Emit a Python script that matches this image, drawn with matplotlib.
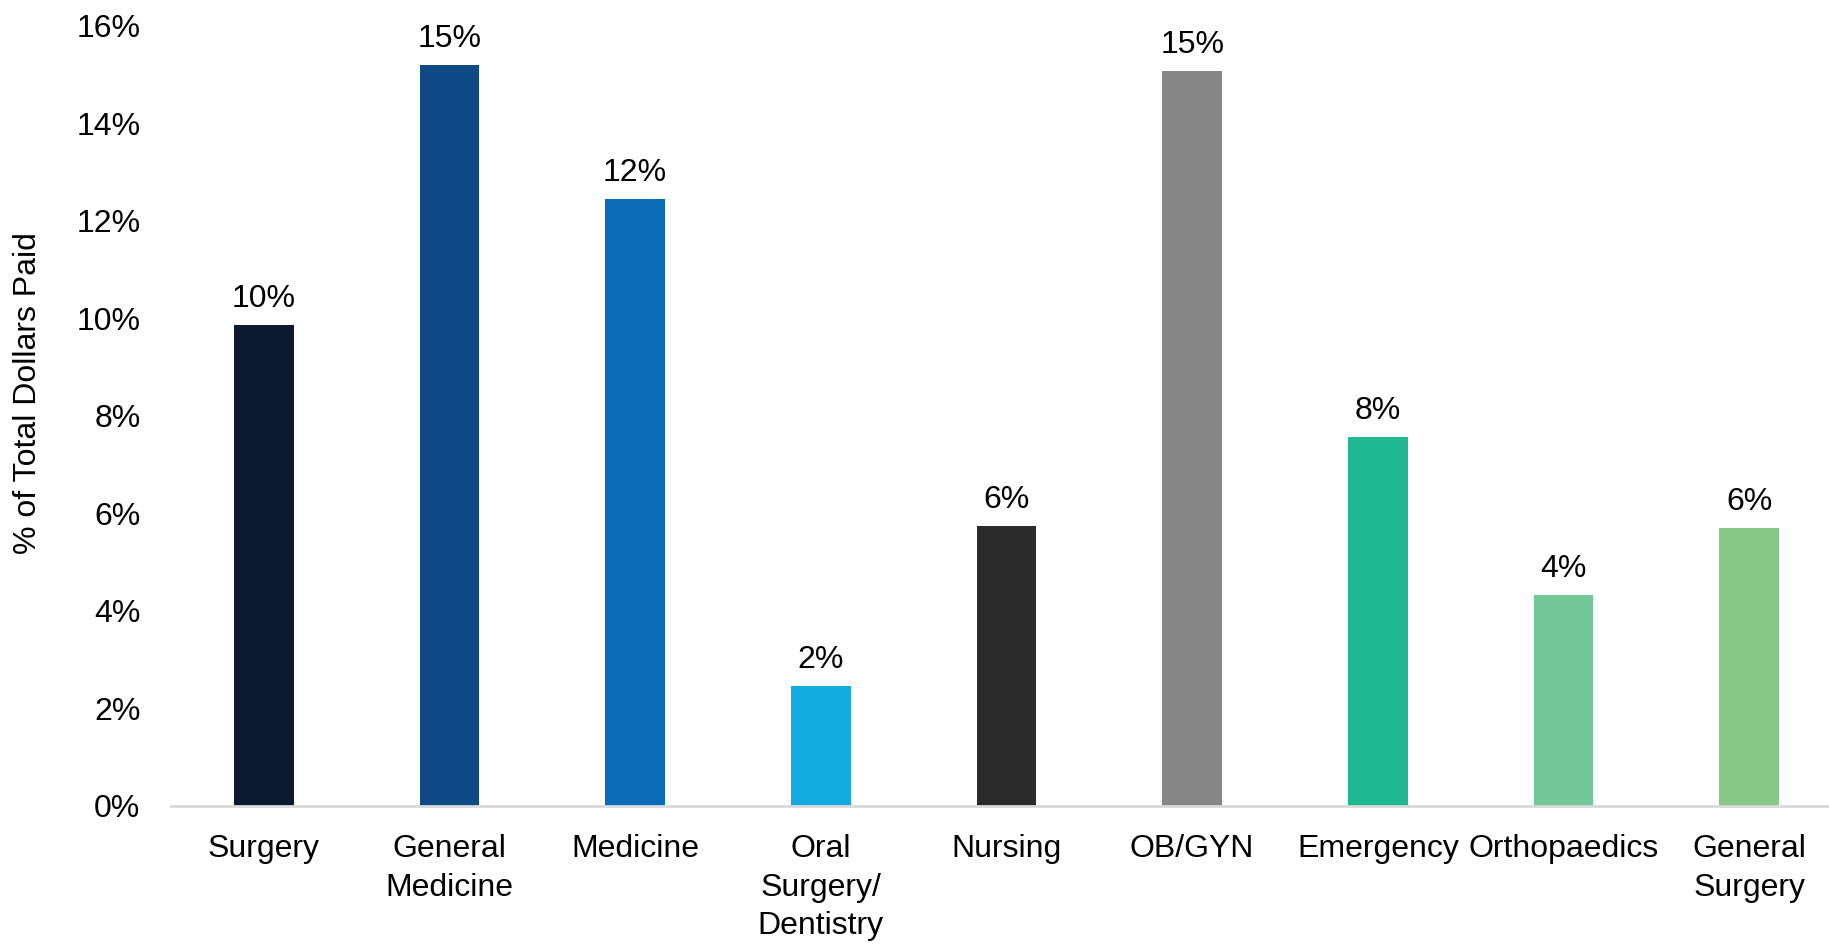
import numpy as np
import matplotlib.pyplot as plt
from matplotlib.ticker import FuncFormatter

plt.rcParams['font.family'] = ['Liberation Sans', 'DejaVu Sans']

categories = ['Surgery', 'General\nMedicine', 'Medicine', 'Oral\nSurgery/\nDentistry', 'Nursing',
              'OB/GYN', 'Emergency', 'Orthopaedics', 'General\nSurgery']
values = [9.86, 15.2, 12.45, 2.46, 5.74, 15.08, 7.56, 4.33, 5.7]
labels = ['10%', '15%', '12%', '2%', '6%', '15%', '8%', '4%', '6%']
colors = ['#0B1A30', '#0F4A87', '#0A6BB8', '#14ABE0', '#2A2A2A',
          '#878787', '#20B892', '#73C89A', '#86C886']

fig = plt.figure(figsize=(18.29, 9.44), dpi=100)
ax = fig.add_axes([0.0935, 0.1462, 0.9065, 0.8263])

x = np.arange(len(categories))
bars = ax.bar(x, values, width=0.32, color=colors)

for b, lab in zip(bars, labels):
    ax.annotate(lab, (b.get_x() + b.get_width() / 2, b.get_height()),
                xytext=(0, 8), textcoords='offset points',
                ha='center', va='bottom', fontsize=23)

ax.set_xlim(-0.5, 8.43)
ax.set_ylim(0, 16)
ax.set_yticks(np.arange(0, 17, 2))
ax.yaxis.set_major_formatter(FuncFormatter(lambda v, p: '%d%%' % v))
ax.set_xticks(x)
ax.set_xticklabels(categories, fontsize=23, linespacing=1.38)
ax.tick_params(axis='y', length=0, pad=22, labelsize=23)
ax.tick_params(axis='x', length=0, pad=20)

for s in ['top', 'right', 'left']:
    ax.spines[s].set_visible(False)
ax.spines['bottom'].set_color('#D9D9D9')
ax.spines['bottom'].set_linewidth(2)

ax.set_ylabel('% of Total Dollars Paid', fontsize=23)
ax.yaxis.set_label_coords(-0.077, 0.53)

fig.savefig('out.png', dpi=100)
